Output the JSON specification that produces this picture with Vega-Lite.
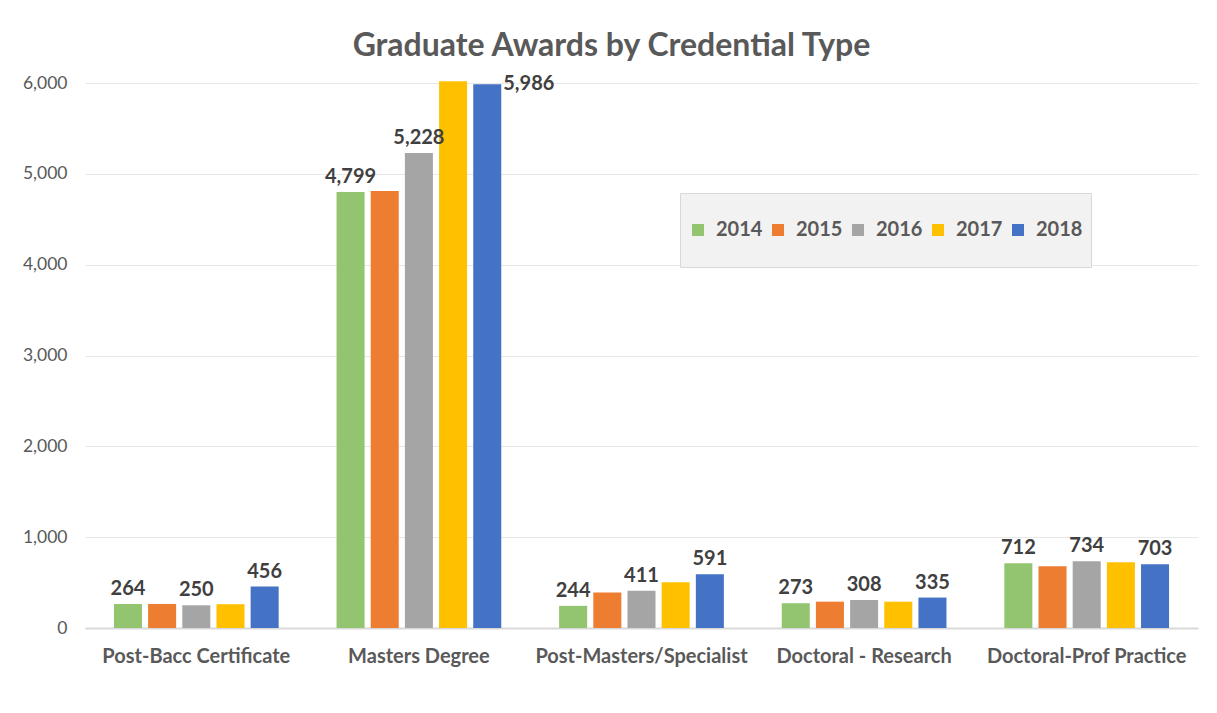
{
  "$schema": "https://vega.github.io/schema/vega-lite/v6.json",
  "width": 1113,
  "height": 545,
  "autosize": {"type": "none"},
  "padding": {"left": 85, "top": 83, "right": 19, "bottom": 85},
  "background": "white",
  "config": {"font": "Lato", "view": {"stroke": null}},
  "title": {"text": "Graduate Awards by Credential Type", "font": "Lato", "fontSize": 32, "fontWeight": "bold", "color": "#595959", "anchor": "middle", "dx": -30, "offset": 11},
  "data": {"values": [
    {"type": "Post-Bacc Certificate", "year": "2014", "value": 264},
    {"type": "Post-Bacc Certificate", "year": "2015", "value": 265},
    {"type": "Post-Bacc Certificate", "year": "2016", "value": 250},
    {"type": "Post-Bacc Certificate", "year": "2017", "value": 262},
    {"type": "Post-Bacc Certificate", "year": "2018", "value": 456},
    {"type": "Masters Degree", "year": "2014", "value": 4799},
    {"type": "Masters Degree", "year": "2015", "value": 4810},
    {"type": "Masters Degree", "year": "2016", "value": 5228},
    {"type": "Masters Degree", "year": "2017", "value": 6018},
    {"type": "Masters Degree", "year": "2018", "value": 5986},
    {"type": "Post-Masters/Specialist", "year": "2014", "value": 244},
    {"type": "Post-Masters/Specialist", "year": "2015", "value": 390},
    {"type": "Post-Masters/Specialist", "year": "2016", "value": 411},
    {"type": "Post-Masters/Specialist", "year": "2017", "value": 505},
    {"type": "Post-Masters/Specialist", "year": "2018", "value": 591},
    {"type": "Doctoral - Research", "year": "2014", "value": 273},
    {"type": "Doctoral - Research", "year": "2015", "value": 290},
    {"type": "Doctoral - Research", "year": "2016", "value": 308},
    {"type": "Doctoral - Research", "year": "2017", "value": 290},
    {"type": "Doctoral - Research", "year": "2018", "value": 335},
    {"type": "Doctoral-Prof Practice", "year": "2014", "value": 712},
    {"type": "Doctoral-Prof Practice", "year": "2015", "value": 680},
    {"type": "Doctoral-Prof Practice", "year": "2016", "value": 734},
    {"type": "Doctoral-Prof Practice", "year": "2017", "value": 725},
    {"type": "Doctoral-Prof Practice", "year": "2018", "value": 703}
  ]},
  "encoding": {
    "x": {
      "field": "type", "type": "nominal",
      "sort": ["Post-Bacc Certificate", "Masters Degree", "Post-Masters/Specialist", "Doctoral - Research", "Doctoral-Prof Practice"],
      "scale": {"paddingInner": 0.26, "paddingOuter": 0.13},
      "axis": {"title": null, "labelAngle": 0, "ticks": false, "domainColor": "#d9d9d9", "domainWidth": 2, "labelPadding": 18, "labelFont": "Lato", "labelFontSize": 20, "labelFontWeight": "bold", "labelColor": "#595959", "labelLimit": 0}
    },
    "xOffset": {"field": "year", "type": "nominal", "scale": {"paddingInner": 0.18, "paddingOuter": 0}},
    "y": {
      "field": "value", "type": "quantitative",
      "scale": {"domain": [0, 6000], "nice": false},
      "axis": {"title": null, "values": [0, 1000, 2000, 3000, 4000, 5000, 6000], "format": ",.0f", "grid": true, "gridColor": "#e8e8e8", "gridWidth": 1, "domain": false, "ticks": false, "labelPadding": 18, "labelFont": "Lato", "labelFontSize": 17.5, "labelColor": "#595959"}
    }
  },
  "layer": [
    {
      "mark": {"type": "bar", "clip": false},
      "encoding": {
        "color": {
          "field": "year", "type": "nominal",
          "scale": {"domain": ["2014", "2015", "2016", "2017", "2018"], "range": ["#93C46F", "#ED7D31", "#A5A5A5", "#FFC000", "#4472C4"]},
          "legend": {"orient": "none", "legendX": 595, "legendY": 110, "direction": "horizontal", "columns": 5, "title": null, "fillColor": "#f2f2f2", "strokeColor": "#d9d9d9", "padding": 8, "symbolType": "square", "symbolSize": 144, "symbolStrokeWidth": 0, "labelFont": "Lato", "labelFontSize": 20, "labelFontWeight": "bold", "labelColor": "#595959", "labelOffset": 8, "columnPadding": 5, "clipHeight": 58}
        }
      }
    },
    {
      "transform": [{"filter": "(datum.year == '2014' || datum.year == '2016' || datum.year == '2018') && datum.value < 5900"}],
      "mark": {"type": "text", "baseline": "bottom", "dy": -5, "font": "Lato", "fontSize": 20, "fontWeight": "bold", "color": "#404040"},
      "encoding": {"text": {"field": "value", "type": "quantitative", "format": ","}}
    },
    {
      "transform": [{"filter": "datum.year == '2018' && datum.value >= 5900"}],
      "mark": {"type": "text", "align": "left", "baseline": "middle", "dx": 16, "font": "Lato", "fontSize": 20, "fontWeight": "bold", "color": "#404040"},
      "encoding": {"text": {"field": "value", "type": "quantitative", "format": ","}}
    }
  ]
}
